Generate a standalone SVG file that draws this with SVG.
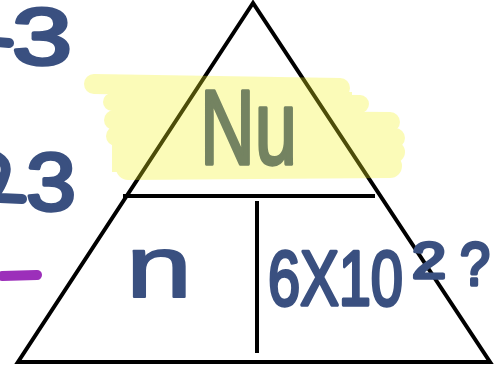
<svg xmlns="http://www.w3.org/2000/svg" width="504" height="372" viewBox="0 0 504 372">
<style>
.ink{font-family:"Liberation Sans","DejaVu Sans",sans-serif;fill:#3a5080;stroke:#3a5080;stroke-width:3.5;stroke-linejoin:round;stroke-linecap:round}
.stroke{fill:none;stroke:#3a5080;stroke-width:10;stroke-linecap:round;stroke-linejoin:round}
.line{stroke:#000;stroke-width:4;fill:none;stroke-linejoin:miter}
.hl{stroke:#f5f51e;stroke-linecap:round;fill:none}
</style>
<rect width="504" height="372" fill="#fff"/>
<g id="margin-notes">
<path class="stroke" d="M-4,42 L9,43"/>
<text class="ink" x="12" y="64" font-size="80" textLength="60" lengthAdjust="spacingAndGlyphs">3</text>
<path class="stroke" d="M-2,157 Q8,163 5,174 Q2,184 -2,190 M-2,198 L22,199"/>
<text class="ink" x="26" y="210" font-size="82" textLength="50" lengthAdjust="spacingAndGlyphs">3</text>
<line x1="2" y1="276" x2="37" y2="275" stroke="#9c2fba" stroke-width="10" stroke-linecap="round"/>
</g>
<g id="connectors">
<polygon class="line" points="253,3 18,362 490,362"/>
<line class="line" x1="123" y1="196" x2="375" y2="196"/>
<line class="line" x1="257" y1="201" x2="257" y2="353"/>
</g>
<g id="node-top">
<text class="ink" x="200" y="164" font-size="106" textLength="97" lengthAdjust="spacingAndGlyphs">Nu</text>
</g>
<g id="node-left">
<text class="ink" x="126" y="297" font-size="88" textLength="66" lengthAdjust="spacingAndGlyphs" style="stroke-width:2">n</text>
</g>
<g id="node-right">
<text class="ink" x="268" y="305" font-size="77" textLength="135" lengthAdjust="spacingAndGlyphs">6X10</text>
<text class="ink" x="412" y="278" font-size="50" textLength="34" lengthAdjust="spacingAndGlyphs">2</text>
<text class="ink" x="460" y="285" font-size="62" textLength="30" lengthAdjust="spacingAndGlyphs">?</text>
</g>
<g id="highlight" opacity="0.31">
<line class="hl" x1="94" y1="84" x2="340" y2="88" stroke-width="20"/>
<line class="hl" x1="112" y1="102" x2="360" y2="104" stroke-width="18"/>
<line class="hl" x1="114" y1="120" x2="390" y2="122" stroke-width="20"/>
<line class="hl" x1="116" y1="136" x2="395" y2="138" stroke-width="20"/>
<line class="hl" x1="126" y1="152" x2="394" y2="152" stroke-width="22"/>
<line class="hl" x1="128" y1="168" x2="390" y2="166" stroke-width="24"/>
<rect x="112" y="92" width="240" height="80" fill="#f5f51e"/>
</g>
</svg>
